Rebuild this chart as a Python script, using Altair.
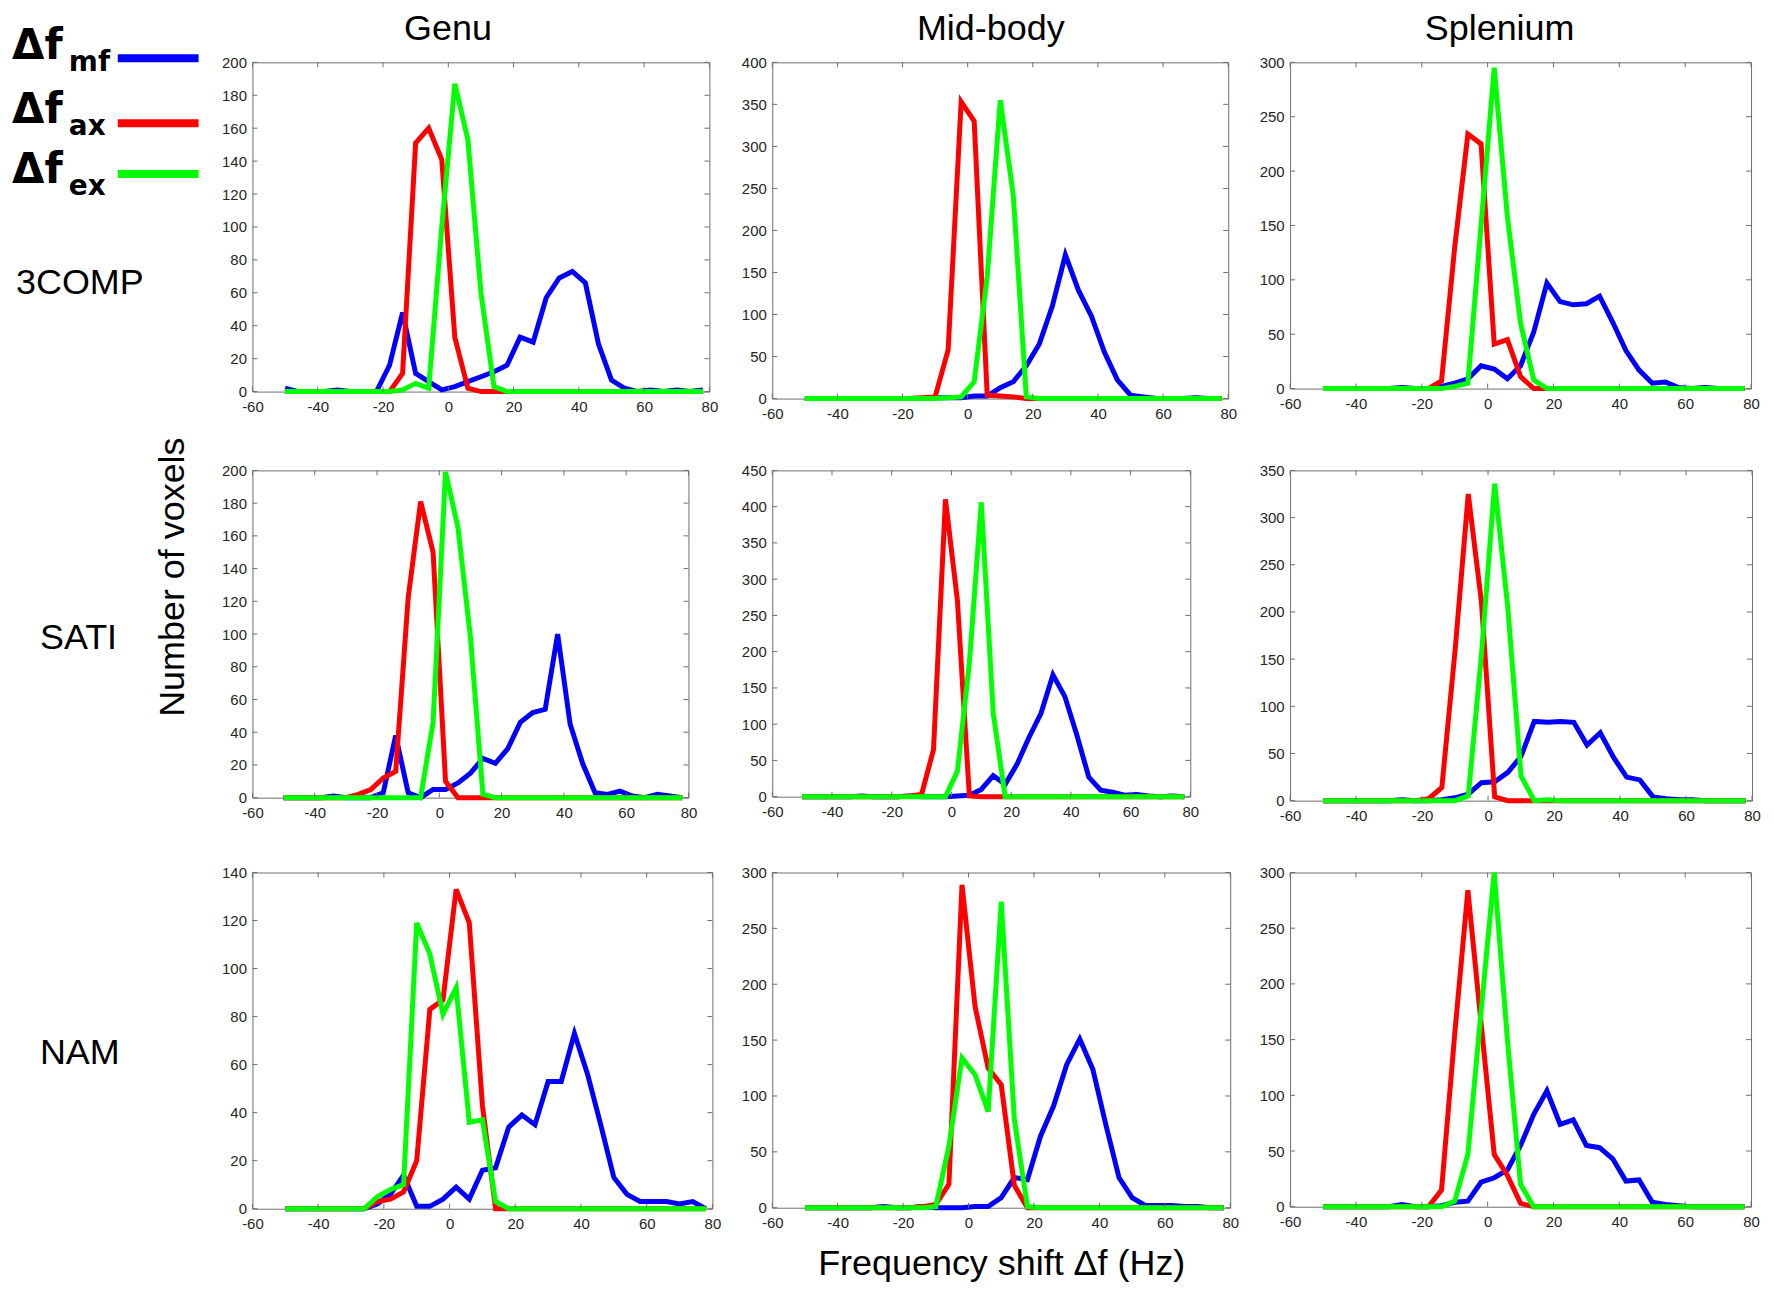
import altair as alt
import pandas as pd

# ---------------- data ----------------
FREQ = [-50, -46, -42, -38, -34, -30, -26, -22, -18, -14, -10, -6, -2, 2, 6, 10,
        14, 18, 22, 26, 30, 34, 38, 42, 46, 50, 54, 58, 62, 66, 70, 74, 78]
X_TICKS = [-60, -40, -20, 0, 20, 40, 60, 80]

COLUMN_TITLES = ["Genu", "Mid-body", "Splenium"]
ROW_LABELS = ["3COMP", "SATI", "NAM"]
Y_LABEL = "Number of voxels"
X_LABEL = "Frequency shift \u0394f (Hz)"
SERIES = ["mf", "ax", "ex"]
SERIES_COLORS = ["#0000ff", "#ff0000", "#00ff00"]

# 3COMP
GENU_3COMP_MF = [2, 0, 0, 0, 1, 0, 0, 0, 16, 48, 11, 6, 1, 3, 6, 9, 12, 16, 33, 30, 57, 69, 73, 66, 29, 7, 2, 0, 1, 0, 1, 0, 1]
GENU_3COMP_AX = [0, 0, 0, 0, 0, 0, 0, 0, 0, 11, 151, 160, 141, 33, 2, 0, 0, 0, 0, 0, 0, 0, 0, 0, 0, 0, 0, 0, 0, 0, 0, 0, 0]
GENU_3COMP_EX = [0, 0, 0, 0, 0, 0, 0, 0, 0, 1, 5, 2, 100, 187, 153, 60, 3, 0, 0, 0, 0, 0, 0, 0, 0, 0, 0, 0, 0, 0, 0, 0, 0]

MID_3COMP_MF = [0, 0, 0, 0, 0, 0, 0, 0, 0, 0, 1, 1, 1, 3, 3, 13, 20, 39, 65, 110, 171, 129, 98, 55, 22, 4, 2, 0, 0, 0, 1, 0, 0]
MID_3COMP_AX = [0, 0, 0, 0, 0, 0, 0, 0, 0, 1, 2, 58, 353, 330, 4, 3, 2, 0, 0, 0, 0, 0, 0, 0, 0, 0, 0, 0, 0, 0, 0, 0, 0]
MID_3COMP_EX = [0, 0, 0, 0, 0, 0, 0, 0, 0, 0, 0, 1, 2, 20, 145, 355, 242, 2, 0, 0, 0, 0, 0, 0, 0, 0, 0, 0, 0, 0, 0, 0, 0]

SPL_3COMP_MF = [0, 0, 0, 0, 0, 0, 1, 0, 0, 2, 5, 9, 21, 18, 9, 21, 52, 97, 80, 77, 78, 85, 61, 35, 17, 5, 6, 1, 0, 1, 0, 0, 0]
SPL_3COMP_AX = [0, 0, 0, 0, 0, 0, 0, 0, 0, 7, 130, 234, 225, 41, 45, 11, 0, 0, 0, 0, 0, 0, 0, 0, 0, 0, 0, 0, 0, 0, 0, 0, 0]
SPL_3COMP_EX = [0, 0, 0, 0, 0, 0, 0, 0, 0, 0, 2, 5, 150, 295, 158, 60, 8, 0, 0, 0, 0, 0, 0, 0, 0, 0, 0, 0, 0, 0, 0, 0, 0]

# SATI
GENU_SATI_MF = [0, 0, 0, 0, 1, 0, 0, 0, 3, 38, 3, 0, 5, 5, 9, 15, 24, 21, 30, 46, 52, 54, 100, 45, 21, 3, 2, 4, 1, 0, 2, 1, 0]
GENU_SATI_AX = [0, 0, 0, 0, 0, 0, 2, 5, 12, 16, 122, 181, 150, 10, 0, 0, 0, 0, 0, 0, 0, 0, 0, 0, 0, 0, 0, 0, 0, 0, 0, 0, 0]
GENU_SATI_EX = [0, 0, 0, 0, 0, 0, 0, 0, 0, 0, 0, 0, 46, 199, 165, 98, 2, 0, 0, 0, 0, 0, 0, 0, 0, 0, 0, 0, 0, 0, 0, 0, 0]

MID_SATI_MF = [0, 0, 0, 0, 0, 1, 0, 0, 0, 1, 0, 0, 0, 1, 2, 10, 29, 17, 45, 82, 115, 168, 138, 85, 27, 9, 6, 2, 3, 1, 0, 1, 0]
MID_SATI_AX = [0, 0, 0, 0, 0, 0, 0, 0, 0, 1, 3, 65, 410, 271, 1, 0, 0, 0, 0, 0, 0, 0, 0, 0, 0, 0, 0, 0, 0, 0, 0, 0, 0]
MID_SATI_EX = [0, 0, 0, 0, 0, 0, 0, 0, 0, 0, 0, 0, 0, 35, 184, 406, 115, 0, 0, 0, 0, 0, 0, 0, 0, 0, 0, 0, 0, 0, 0, 0, 0]

SPL_SATI_MF = [0, 0, 0, 0, 0, 0, 1, 0, 0, 1, 3, 7, 19, 20, 30, 47, 84, 83, 84, 83, 59, 72, 46, 25, 22, 4, 2, 1, 1, 0, 0, 0, 0]
SPL_SATI_AX = [0, 0, 0, 0, 0, 0, 0, 0, 2, 14, 159, 325, 210, 4, 0, 0, 0, 0, 0, 0, 0, 0, 0, 0, 0, 0, 0, 0, 0, 0, 0, 0, 0]
SPL_SATI_EX = [0, 0, 0, 0, 0, 0, 0, 0, 0, 0, 0, 5, 155, 336, 204, 26, 0, 1, 0, 0, 0, 0, 0, 0, 0, 0, 0, 0, 0, 0, 0, 0, 0]

# NAM
GENU_NAM_MF = [0, 0, 0, 0, 0, 0, 0, 2, 6, 14, 1, 1, 4, 9, 4, 16, 17, 34, 39, 35, 53, 53, 73, 56, 35, 13, 6, 3, 3, 3, 2, 3, 0]
GENU_NAM_AX = [0, 0, 0, 0, 0, 0, 0, 3, 4, 7, 20, 83, 87, 133, 119, 43, 0, 0, 0, 0, 0, 0, 0, 0, 0, 0, 0, 0, 0, 0, 0, 0, 0]
GENU_NAM_EX = [0, 0, 0, 0, 0, 0, 0, 5, 8, 10, 119, 106, 81, 92, 36, 37, 3, 0, 0, 0, 0, 0, 0, 0, 0, 0, 0, 0, 0, 0, 0, 0, 0]

MID_NAM_MF = [0, 0, 0, 0, 0, 0, 1, 0, 0, 1, 0, 0, 0, 1, 1, 9, 27, 25, 64, 91, 128, 151, 124, 74, 27, 9, 2, 2, 2, 1, 1, 0, 0]
MID_NAM_AX = [0, 0, 0, 0, 0, 0, 0, 0, 0, 1, 3, 21, 289, 180, 125, 110, 20, 0, 0, 0, 0, 0, 0, 0, 0, 0, 0, 0, 0, 0, 0, 0, 0]
MID_NAM_EX = [0, 0, 0, 0, 0, 0, 0, 0, 0, 0, 1, 55, 134, 119, 86, 274, 79, 1, 0, 0, 0, 0, 0, 0, 0, 0, 0, 0, 0, 0, 0, 0, 0]

SPL_NAM_MF = [0, 0, 0, 0, 0, 0, 2, 0, 0, 1, 4, 5, 22, 26, 33, 55, 83, 104, 74, 78, 55, 53, 43, 23, 24, 4, 2, 1, 0, 0, 0, 0, 0]
SPL_NAM_AX = [0, 0, 0, 0, 0, 0, 0, 0, 0, 15, 155, 284, 165, 47, 28, 3, 0, 0, 0, 0, 0, 0, 0, 0, 0, 0, 0, 0, 0, 0, 0, 0, 0]
SPL_NAM_EX = [0, 0, 0, 0, 0, 0, 0, 0, 0, 0, 5, 47, 175, 300, 150, 20, 0, 0, 0, 0, 0, 0, 0, 0, 0, 0, 0, 0, 0, 0, 0, 0, 0]

# y tick labels of each panel
Y_TICKS_GENU_3COMP = [0, 20, 40, 60, 80, 100, 120, 140, 160, 180, 200]
Y_TICKS_MID_3COMP = [0, 50, 100, 150, 200, 250, 300, 350, 400]
Y_TICKS_SPL_3COMP = [0, 50, 100, 150, 200, 250, 300]
Y_TICKS_GENU_SATI = [0, 20, 40, 60, 80, 100, 120, 140, 160, 180, 200]
Y_TICKS_MID_SATI = [0, 50, 100, 150, 200, 250, 300, 350, 400, 450]
Y_TICKS_SPL_SATI = [0, 50, 100, 150, 200, 250, 300, 350]
Y_TICKS_GENU_NAM = [0, 20, 40, 60, 80, 100, 120, 140]
Y_TICKS_MID_NAM = [0, 50, 100, 150, 200, 250, 300]
Y_TICKS_SPL_NAM = [0, 50, 100, 150, 200, 250, 300]

PANELS = [
    [(GENU_3COMP_MF, GENU_3COMP_AX, GENU_3COMP_EX, Y_TICKS_GENU_3COMP),
     (MID_3COMP_MF, MID_3COMP_AX, MID_3COMP_EX, Y_TICKS_MID_3COMP),
     (SPL_3COMP_MF, SPL_3COMP_AX, SPL_3COMP_EX, Y_TICKS_SPL_3COMP)],
    [(GENU_SATI_MF, GENU_SATI_AX, GENU_SATI_EX, Y_TICKS_GENU_SATI),
     (MID_SATI_MF, MID_SATI_AX, MID_SATI_EX, Y_TICKS_MID_SATI),
     (SPL_SATI_MF, SPL_SATI_AX, SPL_SATI_EX, Y_TICKS_SPL_SATI)],
    [(GENU_NAM_MF, GENU_NAM_AX, GENU_NAM_EX, Y_TICKS_GENU_NAM),
     (MID_NAM_MF, MID_NAM_AX, MID_NAM_EX, Y_TICKS_MID_NAM),
     (SPL_NAM_MF, SPL_NAM_AX, SPL_NAM_EX, Y_TICKS_SPL_NAM)],
]

# ---------------- layout / style ----------------
PANEL_W = [[458, 457, 462], [437, 419, 463], [461, 459, 462]]
PANEL_H = [[330, 337, 327], [328, 327, 331], [337, 336, 335]]
LEFT_W = 185
ROW_H = [337, 331, 337]
TITLE_X = [441, 985, 1495]   # centres of the column titles, relative to left cell

FONT = "Liberation Sans"
BOX = "#6e6e6e"
LABEL_COLOR = "#262626"
TICK_LEN = 5
LINE_W = 5

ONE = pd.DataFrame({"k": [0]})


def panel(r, c):
    mf, ax, ex, yt = PANELS[r][c]
    w, h = PANEL_W[r][c], PANEL_H[r][c]
    df = pd.DataFrame({"f": FREQ, "mf": mf, "ax": ax, "ex": ex})
    xs = alt.Scale(domain=[X_TICKS[0], X_TICKS[-1]], nice=False, zero=False)
    ys = alt.Scale(domain=[yt[0], yt[-1]], nice=False)
    common = dict(labelFontSize=15, labelFont=FONT, labelColor=LABEL_COLOR,
                  ticks=False, domain=False, grid=False, labelOverlap=False,
                  labelFlush=False, labelExpr="toString(datum.value)")
    if r == 2 and c == 1:
        xaxis = alt.Axis(values=X_TICKS, labelPadding=8,
                         title=X_LABEL, titleFont=FONT, titleFontSize=36,
                         titleFontWeight="normal", titleColor="black",
                         titleY=67, titleBaseline="alphabetic", **common)
    else:
        xaxis = alt.Axis(values=X_TICKS, labelPadding=8, title=None, **common)
    yaxis = alt.Axis(values=yt, labelPadding=6, title=None, **common)

    xt = pd.DataFrame({"v": X_TICKS})
    ytd = pd.DataFrame({"v": yt})
    layers = []
    for s, col in zip(SERIES, SERIES_COLORS):
        layers.append(
            alt.Chart(df).mark_line(color=col, strokeWidth=LINE_W, strokeJoin="miter").encode(
                x=alt.X("f:Q", scale=xs, axis=xaxis),
                y=alt.Y(f"{s}:Q", scale=ys, axis=yaxis),
            )
        )
    layers += [
        alt.Chart(ytd).mark_rule(color=BOX, strokeWidth=1).encode(
            y=alt.Y("v:Q", scale=ys, axis=yaxis), x=alt.value(0), x2=alt.value(TICK_LEN)),
        alt.Chart(ytd).mark_rule(color=BOX, strokeWidth=1).encode(
            y=alt.Y("v:Q", scale=ys, axis=yaxis), x=alt.value(w - TICK_LEN), x2=alt.value(w)),
        alt.Chart(xt).mark_rule(color=BOX, strokeWidth=1).encode(
            x=alt.X("v:Q", scale=xs, axis=xaxis), y=alt.value(h - TICK_LEN), y2=alt.value(h)),
        alt.Chart(xt).mark_rule(color=BOX, strokeWidth=1).encode(
            x=alt.X("v:Q", scale=xs, axis=xaxis), y=alt.value(0), y2=alt.value(TICK_LEN)),
    ]
    return alt.layer(*layers).properties(
        width=w, height=h, view=alt.ViewBackground(stroke=BOX, strokeWidth=1))


def txt(text, x, y, size, font=FONT, weight="normal", angle=0, align="left"):
    return alt.Chart(ONE).mark_text(
        text=text, fontSize=size, font=font, fontWeight=weight, angle=angle,
        align=align, baseline="alphabetic", color="black"
    ).encode(x=alt.value(x), y=alt.value(y))


def legend_line(color, y):
    return alt.Chart(ONE).mark_rule(color=color, strokeWidth=8, strokeCap="butt").encode(
        x=alt.value(110), x2=alt.value(191), y=alt.value(y))


def left_cell(r):
    marks = [txt(ROW_LABELS[r], 8 if r == 0 else 32, [232, 179, 192][r], 36)]
    if r == 0:
        for t, x in zip(COLUMN_TITLES, TITLE_X):
            marks.append(txt(t, x, -22, 36, align="center"))
        base_y = [-3, 61, 121]
        line_y = [-4, 61, 112]
        for s, col, by, ly in zip(SERIES, SERIES_COLORS, base_y, line_y):
            marks.append(txt("\u0394f", 4, by, 42, font="DejaVu Sans", weight="bold"))
            marks.append(txt(s, 61, by + 12, 28, font="DejaVu Sans", weight="bold"))
            marks.append(legend_line(col, ly))
    if r == 1:
        marks.append(txt(Y_LABEL, 176, 107, 36, angle=270, align="center"))
    return alt.layer(*marks).properties(
        width=LEFT_W, height=ROW_H[r], view=alt.ViewBackground(strokeOpacity=0))


cells = []
for r in range(3):
    cells.append(left_cell(r))
    for c in range(3):
        cells.append(panel(r, c))

chart = alt.concat(
    *cells, columns=4, spacing={"row": 72, "column": 60}, bounds="flush", align="each"
).properties(
    padding={"left": 0, "top": 2, "right": 5, "bottom": 5}
).configure_view(stroke="transparent")

chart.save("out.html", embed_options={"renderer": "svg", "actions": False})
